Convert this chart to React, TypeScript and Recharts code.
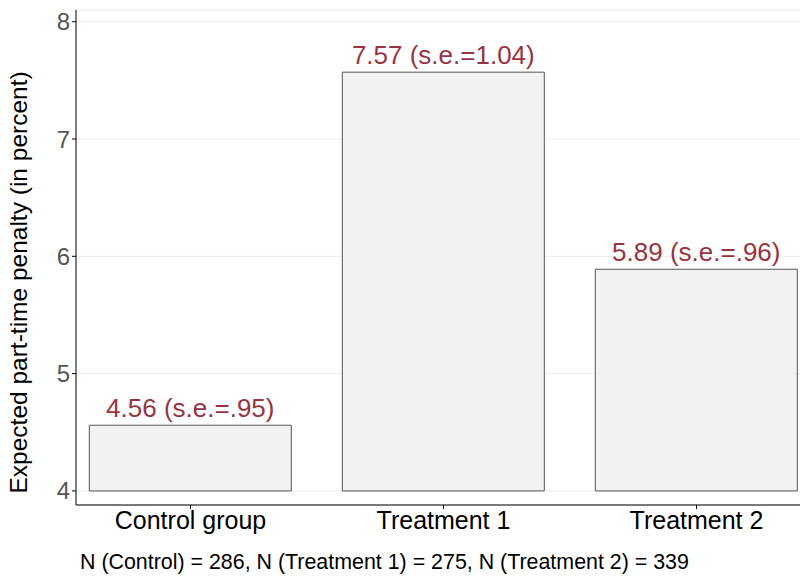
import React from "react";
import { BarChart, Bar, XAxis, YAxis, CartesianGrid, LabelList } from "recharts";

const categories = ["Control group", "Treatment 1", "Treatment 2"];
const values = [4.56, 7.57, 5.89];
const labels = ["4.56 (s.e.=.95)", "7.57 (s.e.=1.04)", "5.89 (s.e.=.96)"];
const yTicks = [4, 5, 6, 7, 8];

const data = categories.map((c, i) => ({ name: c, range: [4, values[i]], label: labels[i] }));

const font = "'Liberation Sans', Arial, sans-serif";

export default function App() {
  return (
    <div style={{ position: "absolute", left: 0, top: 0, width: 800, height: 578, background: "#fff", fontFamily: font, overflow: "hidden" }}>
      <BarChart width={823} height={578} data={data} margin={{ top: 10, right: 0, bottom: 43, left: 0 }} barCategoryGap="10%">
        <CartesianGrid vertical={false} stroke="#ebebeb" />
        <XAxis dataKey="name" stroke="#000" tickLine={{ stroke: "#000" }} tickSize={4} padding={{ left: -12, right: 0 }}
          tick={{ fill: "#000", fontSize: 25, fontFamily: font }} interval={0} />
        <YAxis width={76} domain={[3.88, 8.1]} ticks={yTicks} stroke="#000" tickSize={4}
          tick={{ fill: "#555", fontSize: 24, fontFamily: font }}
          label={{ value: "Expected part-time penalty (in percent)", angle: -90, position: "insideLeft", offset: 18, dy: 236, style: { fontSize: 24.5, fill: "#000", fontFamily: font } }} />
        <Bar dataKey="range" fill="#f2f2f2" stroke="#555" strokeWidth={1} isAnimationActive={false}>
          <LabelList dataKey="label" position="top" offset={8} style={{ fill: "#993340", fontSize: 26, fontFamily: font }} />
        </Bar>
      </BarChart>
      <div style={{ position: "absolute", left: 80, top: 550, fontSize: 21.4, color: "#000" }}>
        N (Control) = 286, N (Treatment 1) = 275, N (Treatment 2) = 339
      </div>
    </div>
  );
}
